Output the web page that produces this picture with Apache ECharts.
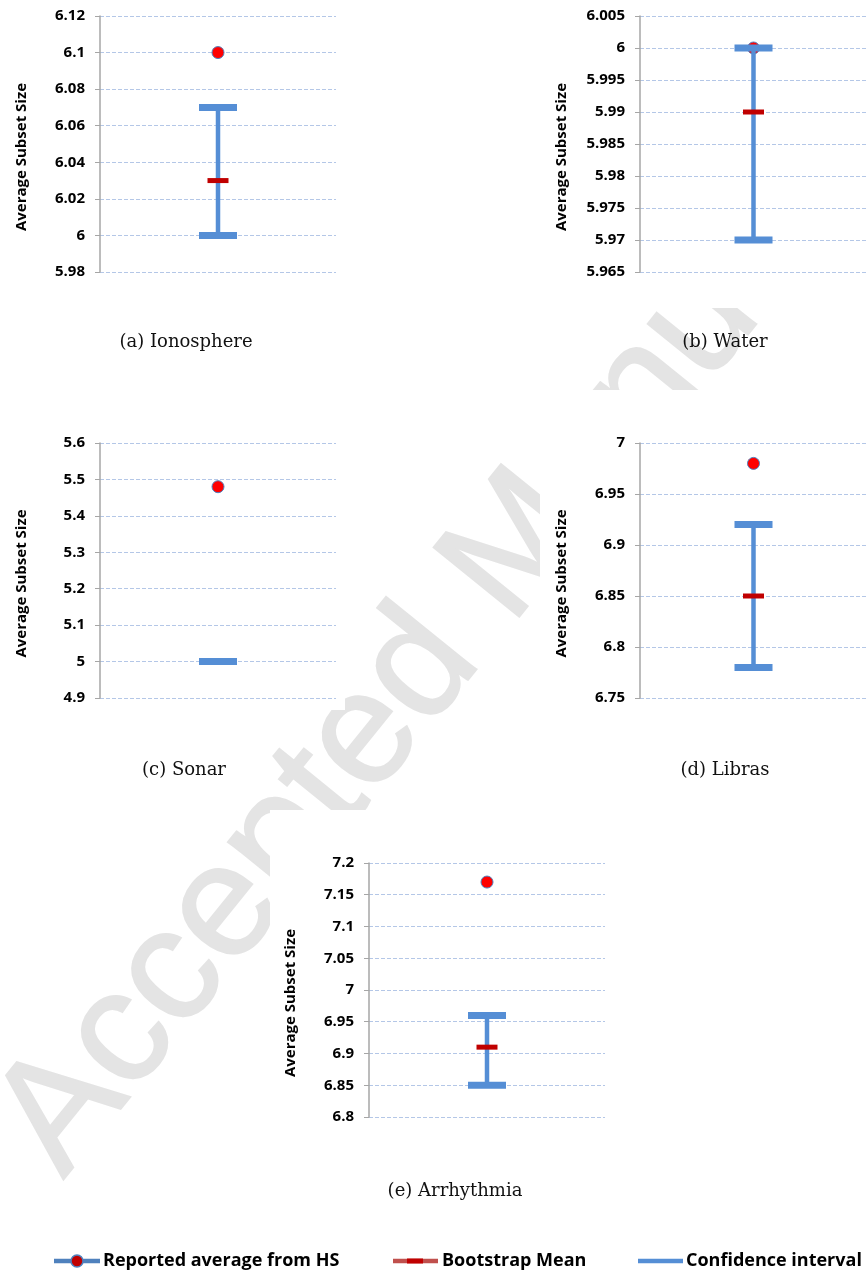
<!DOCTYPE html>
<html>
<head>
<meta charset="utf-8">
<script src="https://cdn.jsdelivr.net/npm/echarts@6/dist/echarts.min.js"></script>
<style>
  html, body { margin: 0; padding: 0; background: #fff; }
  #chart { width: 867px; height: 1273px; }
</style>
</head>
<body>
<div id="chart"></div>
<script>
// one small panel per dataset
const captions = ['(a) Ionosphere', '(b) Water', '(c) Sonar', '(d) Libras', '(e) Arrhythmia'];
const reported = [6.1, 6.0, 5.48, 6.98, 7.17];
const bootMean = [6.03, 5.99, 5.0, 6.85, 6.91];
const ciLow = [6.0, 5.97, 5.0, 6.78, 6.85];
const ciHigh = [6.07, 6.0, 5.0, 6.92, 6.96];
const yMin = [5.98, 5.965, 4.9, 6.75, 6.8];
const yMax = [6.12, 6.005, 5.6, 7.0, 7.2];
const yStep = [0.02, 0.005, 0.1, 0.05, 0.05];
const legendNames = ['Reported average from HS', 'Bootstrap Mean', 'Confidence interval'];

const BLUE = '#558ed5';
const DARKRED = '#c00000';
const labelFont = '"Open Sans", "Liberation Sans", sans-serif';
const serifFont = '"DejaVu Serif", "Liberation Serif", serif';

// where each panel sits on the page
const boxes = [
  { left: 100, top: 16, width: 236, height: 256 },
  { left: 640, top: 16, width: 236, height: 256 },
  { left: 100, top: 443, width: 236, height: 255 },
  { left: 640, top: 443, width: 236, height: 255 },
  { left: 369, top: 863, width: 236, height: 254 }
];
const captionPos = [[186, 342], [725, 342], [184, 770], [725, 770], [455, 1191]];
// white figure backgrounds that hide the watermark
const figBg = [[540, 0, 327, 308], [0, 400, 345, 310], [540, 390, 327, 330], [270, 810, 345, 330]];

const chart = echarts.init(document.getElementById('chart'));

function stem(params, api) {
  const lo = api.coord([api.value(0), api.value(1)]);
  const hi = api.coord([api.value(0), api.value(2)]);
  return {
    type: 'line',
    shape: { x1: lo[0], y1: lo[1], x2: hi[0], y2: hi[1] },
    style: { stroke: BLUE, lineWidth: 4.5 }
  };
}
function caps(params, api) {
  const lo = api.coord([api.value(0), api.value(1)]);
  const hi = api.coord([api.value(0), api.value(2)]);
  const w = 38, h = 7;
  return {
    type: 'group',
    children: [lo, hi].map(p => ({
      type: 'rect',
      shape: { x: p[0] - w / 2, y: p[1] - h / 2, width: w, height: h },
      style: { fill: BLUE }
    }))
  };
}

const series = [];
captions.forEach((c, i) => {
  series.push({
    name: legendNames[0], type: 'scatter', xAxisIndex: i, yAxisIndex: i,
    data: [[1, reported[i]]], symbol: 'circle', symbolSize: 12, z: 2,
    itemStyle: { color: '#ff0000', borderColor: '#4f81bd', borderWidth: 1, opacity: 1 }
  });
  series.push({
    name: legendNames[2], type: 'custom', xAxisIndex: i, yAxisIndex: i,
    data: [[1, ciLow[i], ciHigh[i]]], encode: { x: 0, y: [1, 2] },
    renderItem: stem, z: 3
  });
  series.push({
    name: legendNames[1], type: 'scatter', xAxisIndex: i, yAxisIndex: i,
    data: [[1, bootMean[i]]], symbol: 'rect', symbolSize: [21, 5], z: 4,
    itemStyle: { color: DARKRED, opacity: 1 }
  });
  series.push({
    name: legendNames[2], type: 'custom', xAxisIndex: i, yAxisIndex: i,
    data: [[1, ciLow[i], ciHigh[i]]], encode: { x: 0, y: [1, 2] },
    renderItem: caps, z: 5
  });
});

const graphic = [];
// watermark
graphic.push({
  type: 'text', x: 29, y: 1152, rotation: 51 * Math.PI / 180, z: -20,
  style: {
    text: 'Accepted Manuscript', font: '160px "Liberation Sans", sans-serif',
    fill: '#e4e4e4', stroke: '#e4e4e4', lineWidth: 2, align: 'left', verticalAlign: 'middle'
  }
});
figBg.forEach(r => graphic.push({
  type: 'rect', z: -10, shape: { x: r[0], y: r[1], width: r[2], height: r[3] },
  style: { fill: '#fff' }
}));
captions.forEach((c, i) => graphic.push({
  type: 'text', x: captionPos[i][0], y: captionPos[i][1],
  style: { text: c, font: '18px ' + serifFont, fill: '#111', align: 'center', verticalAlign: 'middle' }
}));

// legend row
const ly = 1261;
const legFont = 'bold 18px ' + labelFont;
graphic.push(
  { type: 'line', shape: { x1: 54, y1: ly, x2: 100, y2: ly }, style: { stroke: '#4f81bd', lineWidth: 4.5 } },
  { type: 'circle', shape: { cx: 77, cy: ly, r: 6 }, style: { fill: DARKRED, stroke: '#4f81bd', lineWidth: 1.5 } },
  { type: 'text', x: 103, y: ly, style: { text: legendNames[0], font: legFont, fill: '#000', verticalAlign: 'middle' } },
  { type: 'line', shape: { x1: 393, y1: ly, x2: 438, y2: ly }, style: { stroke: '#c0504d', lineWidth: 4.5 } },
  { type: 'rect', shape: { x: 407, y: ly - 2.5, width: 16, height: 5 }, style: { fill: DARKRED } },
  { type: 'text', x: 442, y: ly, style: { text: legendNames[1], font: legFont, fill: '#000', verticalAlign: 'middle' } },
  { type: 'line', shape: { x1: 638, y1: ly, x2: 683, y2: ly }, style: { stroke: BLUE, lineWidth: 4.5 } },
  { type: 'text', x: 686, y: ly, style: { text: legendNames[2], font: legFont, fill: '#000', verticalAlign: 'middle' } }
);

const option = {
  animation: false,
  backgroundColor: '#fff',
  grid: boxes.map(b => Object.assign({}, b)),
  xAxis: captions.map((c, i) => ({ gridIndex: i, type: 'value', min: 0, max: 2, show: false })),
  yAxis: captions.map((c, i) => ({
    gridIndex: i,
    type: 'value',
    min: yMin[i],
    max: yMax[i],
    interval: yStep[i],
    name: 'Average Subset Size',
    nameLocation: 'middle',
    nameGap: 71,
    nameRotate: 90,
    nameTextStyle: {
      fontFamily: labelFont, fontWeight: 'bold', fontSize: 15, color: '#000',
      padding: [0, 26, 0, 0]
    },
    axisLine: { show: true, lineStyle: { color: '#a6a6a6', width: 1.5 } },
    axisTick: { show: true, length: 5, lineStyle: { color: '#a6a6a6' } },
    axisLabel: {
      margin: 15, fontFamily: labelFont, fontWeight: 'bold', fontSize: 15, color: '#000',
      formatter: v => String(Math.round(v * 1000) / 1000)
    },
    splitLine: { show: true, lineStyle: { color: '#b4c7e7', type: [4, 2], width: 1 } }
  })),
  series: series,
  graphic: graphic
};

chart.setOption(option);
</script>
</body>
</html>
